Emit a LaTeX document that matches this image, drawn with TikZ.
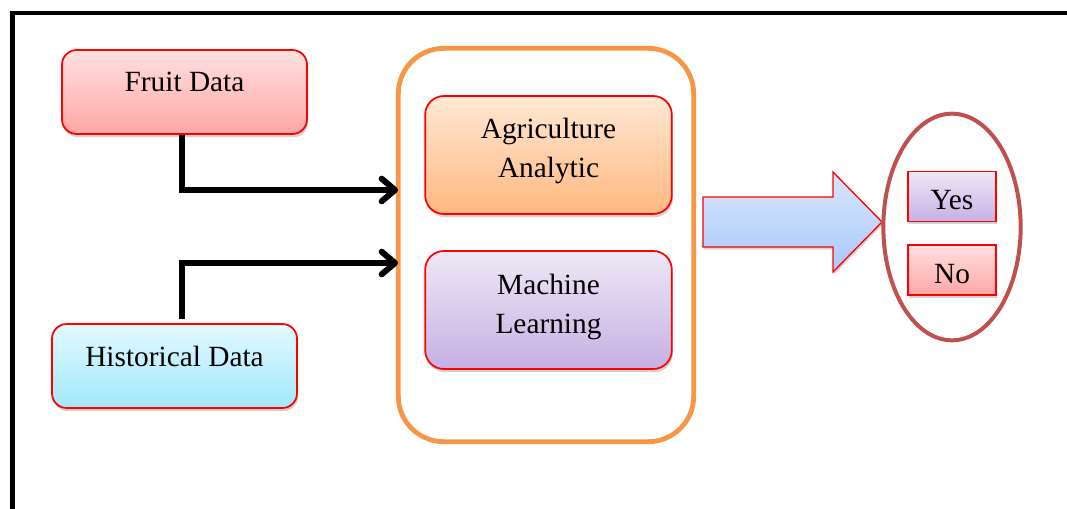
\documentclass[tikz,border=0pt]{standalone}
\usepackage{fontspec}
\setmainfont{Liberation Serif}
\usetikzlibrary{arrows.meta,shadows,shapes.geometric,calc}
\definecolor{fruitT}{RGB}{255,224,224}
\definecolor{fruitB}{RGB}{255,166,166}
\definecolor{histT}{RGB}{226,249,255}
\definecolor{histB}{RGB}{160,232,252}
\definecolor{agriT}{RGB}{255,232,212}
\definecolor{agriB}{RGB}{255,184,128}
\definecolor{mlT}{RGB}{238,232,246}
\definecolor{mlB}{RGB}{198,176,228}
\definecolor{arrT}{RGB}{216,230,252}
\definecolor{arrB}{RGB}{170,200,250}
\definecolor{contOr}{RGB}{247,150,70}
\definecolor{ellRed}{RGB}{192,80,77}
\begin{document}
\begin{tikzpicture}[x=0.75pt,y=-0.75pt,
  txt/.style={font=\fontsize{22}{29.25}\selectfont, inner sep=0pt, align=center},
  boxbase/.style={draw=red, line width=1.3pt, rounded corners=11pt,
     drop shadow={shadow xshift=0.8pt, shadow yshift=-2.4pt, fill=black, opacity=0.18}},
  fruitbox/.style={boxbase, top color=fruitT, bottom color=fruitB, minimum width=183.75pt, minimum height=63pt},
  histbox/.style={boxbase, top color=histT, bottom color=histB, minimum width=183.75pt, minimum height=63pt},
  agribox/.style={boxbase, top color=agriT, bottom color=agriB, minimum width=185pt, minimum height=88.5pt, rounded corners=14pt},
  mlbox/.style={boxbase, top color=mlT, bottom color=mlB, minimum width=185pt, minimum height=88.5pt, rounded corners=14pt},
  smallbox/.style={draw=red, line width=1.3pt,
     drop shadow={shadow xshift=0.8pt, shadow yshift=-2pt, fill=black, opacity=0.18},
     minimum width=66pt, minimum height=37.5pt},
  conn/.style={line width=4.5pt, line join=miter,
     -{Straight Barb[length=10pt, width=17pt, line cap=round, line join=round]}},
]
\useasboundingbox (0,0) rectangle (1067,508);
% outer frame
\coordinate (frBL) at (12.5,530);
\coordinate (frTL) at (12.5,13);
\coordinate (frTR) at (1090,13);
\draw[line width=3.6pt] (frBL) -- (frTL) -- (frTR);

% container
\node[draw=contOr, line width=3.6pt, rounded corners=34pt, minimum width=221.5pt, minimum height=295pt, inner sep=0pt] (cont) at (546,245) {};

% boxes
\node[fruitbox] (fruit) at (184.5,92) {};
\node[histbox] (hist) at (174.5,366) {};
\node[agribox] (agri) at (548.5,155) {};
\node[mlbox] (ml) at (548.5,310) {};

% texts
\node[txt, anchor=base] (fruitL) at (184.5,91) {Fruit Data};
\node[txt, anchor=base] (histL) at (174.5,366) {Historical Data};
\node[txt] (agriL) at (548.5,151) {Agriculture\\Analytic};
\node[txt] (mlL) at (548.5,307) {Machine\\Learning};

% connectors
\coordinate (in1) at (398,190);
\coordinate (in2) at (398,263);
\draw[conn] ([xshift=-1.9pt]fruit.south) |- (in1);
\draw[conn] ([xshift=5.6pt,yshift=3pt]hist.north) |- (in2);

% big arrow
\coordinate (ba) at (703,222);
\draw[draw=red, line width=1pt, top color=arrT, bottom color=arrB,
  drop shadow={shadow xshift=0.8pt, shadow yshift=-2pt, fill=black, opacity=0.16}]
  ($(ba)+(0,-25)$) -- ++(130,0) -- ++(0,-25) -- (882,222) -- (833,272) -- ++(0,-25) -- ($(ba)+(0,25)$) -- cycle;

% ellipse and outputs
\node[ellipse, draw=ellRed, line width=3pt, minimum width=103pt, minimum height=170pt, inner sep=0pt] (ell) at (952,227) {};
\node[smallbox, top color=mlT, bottom color=mlB] (yes) at (952,196.5) {};
\node[smallbox, top color=fruitT, bottom color=fruitB] (no) at (952,270) {};
\node[txt, anchor=base] (yesL) at (952,209) {Yes};
\node[txt, anchor=base] (noL) at (952,283) {No};
\end{tikzpicture}
\end{document}
